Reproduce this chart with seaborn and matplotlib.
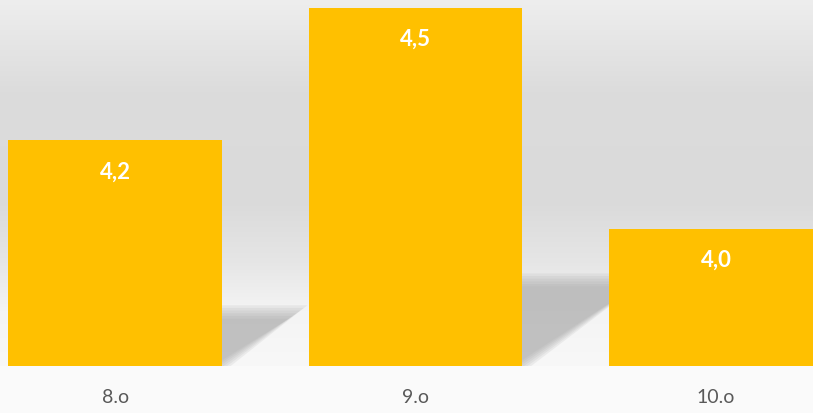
import numpy as np
import pandas as pd
import matplotlib
matplotlib.use("Agg")
import matplotlib.pyplot as plt
from matplotlib.colors import LinearSegmentedColormap
from matplotlib.patches import Polygon
import seaborn as sns

# chart data
categories = ["8.o", "9.o", "10.o"]
values = [4.2, 4.5, 4.0]
value_labels = ["4,2", "4,5", "4,0"]

bar_color = "#FFC000"
base = 3.69
top = 4.52

sns.set_style("white")
plt.rcParams['font.family'] = ['Lato', 'DejaVu Sans']

df = pd.DataFrame({"grade": categories, "score": values})

fig = plt.figure(figsize=(8.13, 4.14), dpi=100, facecolor="#fafafa")
ax = fig.add_axes([0, 47 / 414, 1, 367 / 414])
xlim = (-0.383, 2.323)

# background gradient (wall), row 0 = top of the axes
stops = [(0.0, "#eeeeee"), (0.25, "#dcdcdc"), (0.55, "#dadada"),
         (0.72, "#e6e6e6"), (0.85, "#f4f4f4"), (1.0, "#f8f8f8")]
cmap = LinearSegmentedColormap.from_list("wall", stops)
grad = np.linspace(0, 1, 256).reshape(-1, 1)
ax.imshow(grad, cmap=cmap, aspect="auto", origin="upper",
          extent=(xlim[0], xlim[1], base, top),
          zorder=0, interpolation="bicubic")

sns.barplot(data=df, x="grade", y="score", hue="grade",
            palette=[bar_color] * len(categories), width=0.71,
            legend=False, ax=ax, zorder=3, saturation=1, linewidth=0)

# perspective shadows behind the bars
px_x = 813 / (xlim[1] - xlim[0])
px_y = 367 / (top - base)
for patch in ax.patches:
    x0 = patch.get_x()
    x1 = x0 + patch.get_width()
    h = patch.get_height() - base
    h_px = h * px_y
    dx = 0.34 * h_px / px_x
    hs = 0.24 * h
    for k in range(6):
        grow = (k - 2.5) * 0.012
        poly = Polygon([(x0, base), (x1 + grow, base),
                        (x1 + dx + grow, base + hs + grow * 0.5),
                        (x0 + dx, base + hs + grow * 0.5)],
                       closed=True, facecolor="#a0a0a0", edgecolor="none",
                       alpha=0.14, zorder=1)
        ax.add_patch(poly)

for patch, lab in zip(ax.patches, value_labels):
    cx = patch.get_x() + patch.get_width() / 2
    ax.annotate(lab, (cx, patch.get_height()), xytext=(0, -22),
                textcoords="offset points", ha="center", va="center",
                color="white", fontsize=16, fontweight="bold", zorder=5)

ax.set_xlim(*xlim)
ax.set_ylim(base, top)
ax.set_xlabel("")
ax.set_ylabel("")
ax.set_yticks([])
ax.tick_params(axis="x", length=0, pad=16, labelsize=14, labelcolor="#595959")
for s in ax.spines.values():
    s.set_visible(False)
ax.set_facecolor("none")

fig.savefig("out.png", dpi=100, facecolor=fig.get_facecolor())
